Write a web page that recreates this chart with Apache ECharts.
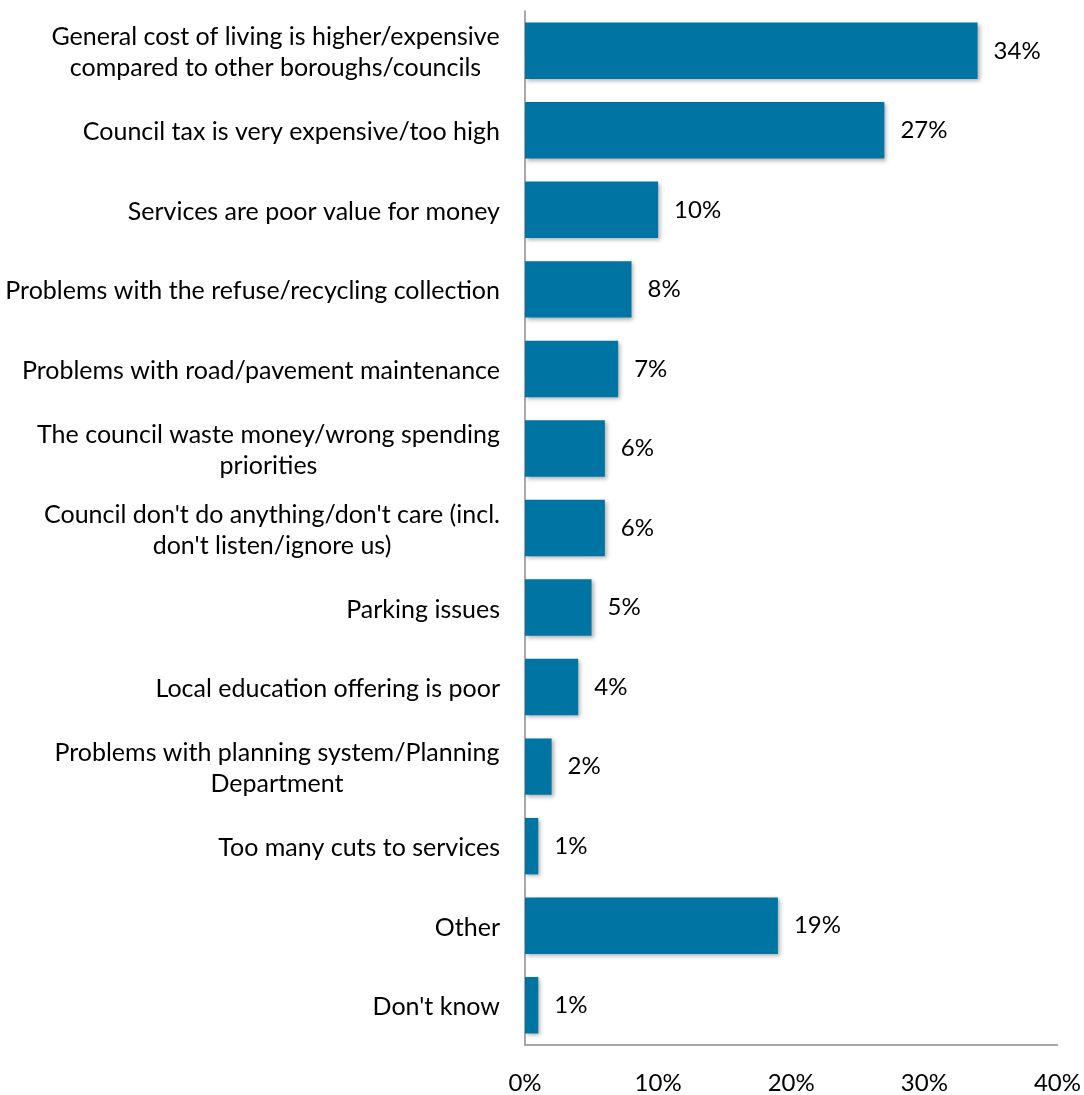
<!DOCTYPE html>
<html>
<head>
<meta charset="utf-8">
<script src="https://cdn.jsdelivr.net/npm/echarts@6/dist/echarts.min.js"></script>
<style>
  html, body { margin: 0; padding: 0; background: #fff; }
  #chart { width: 1084px; height: 1095px; }
</style>
</head>
<body>
<div id="chart"></div>
<script>
// Reasons given for dissatisfaction, top to bottom
const categories = [
  'General cost of living is higher/expensive\ncompared to other boroughs/councils',
  'Council tax is very expensive/too high',
  'Services are poor value for money',
  'Problems with the refuse/recycling collection',
  'Problems with road/pavement maintenance',
  'The council waste money/wrong spending\npriorities',
  "Council don't do anything/don't care (incl.\ndon't listen/ignore us)",
  'Parking issues',
  'Local education offering is poor',
  'Problems with planning system/Planning\nDepartment',
  'Too many cuts to services',
  'Other',
  "Don't know"
];
const values = [34, 27, 10, 8, 7, 6, 6, 5, 4, 2, 1, 19, 1];
const xTicks = [0, 10, 20, 30, 40];

const FONT = 'Lato, "Open Sans", sans-serif';
const CAT_SIZE = 25;
const NUM_SIZE = 24;

// Multi-line category names: lines are centred on each other while the
// whole block stays right-aligned against the axis.
const ctx = document.createElement('canvas').getContext('2d');
const rich = {};
const catLabel = (name, idx) => {
  const lines = name.split('\n');
  if (lines.length === 1) return '{s|' + name + '}';
  const key = 'c' + idx;
  if (!rich[key]) {
    const w = Math.max(...lines.map(l => ctx.measureText(l).width));
    rich[key] = { width: Math.ceil(w), align: 'center', fontFamily: FONT,
                  fontSize: CAT_SIZE, lineHeight: 31, color: '#000' };
  }
  return lines.map(l => '{' + key + '|' + l + '}').join('\n');
};
rich.s = { fontFamily: FONT, fontSize: CAT_SIZE, lineHeight: 31, color: '#000' };

function draw() {
  ctx.font = CAT_SIZE + 'px ' + FONT;
  categories.forEach((c, i) => catLabel(c, i));
  const chart = echarts.init(document.getElementById('chart'));
  chart.setOption({
    animation: false,
    grid: { left: 525, right: 26, top: 11, bottom: 44, containLabel: false },
    xAxis: {
      type: 'value',
      min: xTicks[0],
      max: xTicks[xTicks.length - 1],
      interval: 10,
      axisLine: { show: true, lineStyle: { color: '#8c8c8c', width: 1.5 } },
      axisTick: { show: false },
      splitLine: { show: false },
      axisLabel: {
        formatter: v => v + '%',
        color: '#000',
        fontFamily: FONT,
        fontSize: NUM_SIZE,
        margin: 26
      }
    },
    yAxis: {
      type: 'category',
      data: categories,
      inverse: true,
      axisLine: { show: true, lineStyle: { color: '#8c8c8c', width: 1.5 } },
      axisTick: { show: false },
      axisLabel: {
        color: '#000',
        fontFamily: FONT,
        fontSize: CAT_SIZE,
        lineHeight: 31,
        align: 'right',
        margin: 25,
        padding: [4, 0, 0, 0],
        formatter: (v, i) => catLabel(v, i),
        rich: rich
      }
    },
    series: [{
      type: 'bar',
      data: values,
      barCategoryGap: '29%',
      itemStyle: {
        color: '#0074a3',
        shadowColor: 'rgba(0,0,0,0.3)',
        shadowBlur: 4,
        shadowOffsetX: 2,
        shadowOffsetY: 2
      },
      label: {
        show: true,
        position: 'right',
        distance: 16,
        formatter: p => p.value + '%',
        color: '#000',
        fontFamily: FONT,
        fontSize: NUM_SIZE
      }
    }]
  });
}

if (document.fonts && document.fonts.load) {
  document.fonts.load(CAT_SIZE + 'px Lato').then(draw, draw);
} else {
  draw();
}
</script>
</body>
</html>
